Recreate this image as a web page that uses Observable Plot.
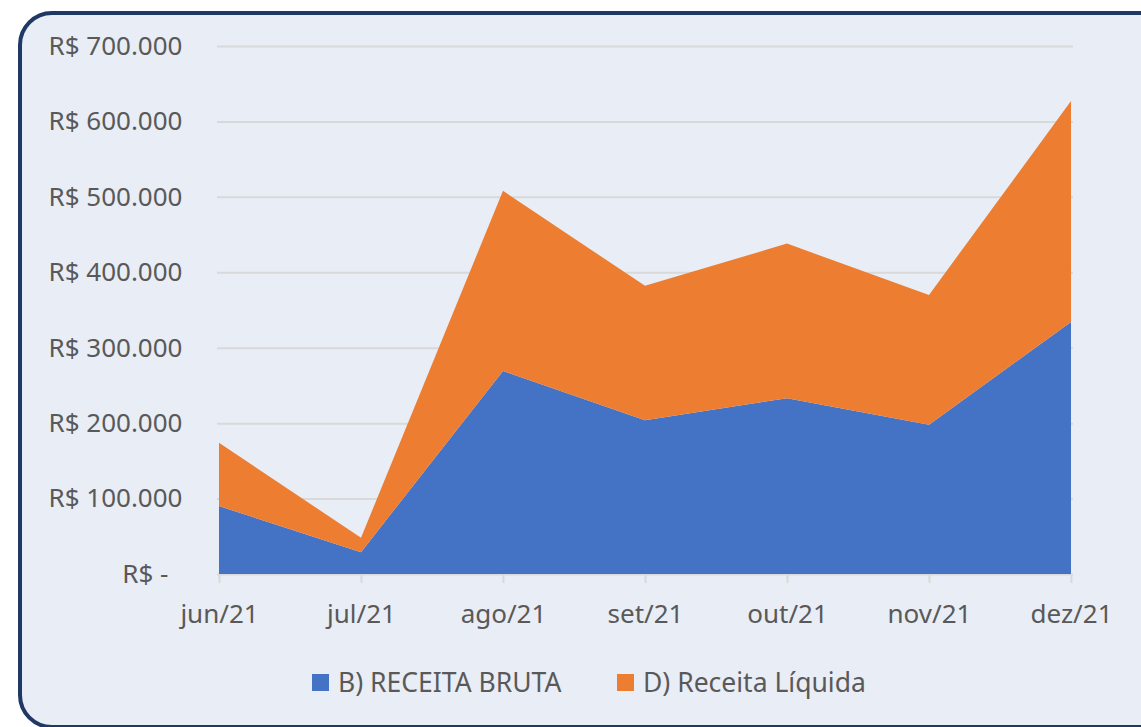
<!DOCTYPE html>
<html>
<head>
<meta charset="utf-8">
<script src="https://cdn.jsdelivr.net/npm/d3@7"></script>
<script src="https://cdn.jsdelivr.net/npm/@observablehq/plot@0.6"></script>
<style>
  html, body { margin: 0; padding: 0; background: #ffffff; overflow: hidden; }
  body { width: 1141px; height: 727px; position: relative; font-family: "Noto Sans", sans-serif; }
  #panel {
    position: absolute; left: 18px; top: 11px; width: 1160px; height: 710px;
    border: 4px solid #1F3864; border-radius: 34px; background: #E9EDF5;
  }
  #chart { position: absolute; left: 0; top: 0; }
  #legend {
    position: absolute; top: 662px; left: 0; width: 1141px; height: 40px;
    font-size: 26.5px; color: #595959;
  }
  .item { position: absolute; top: 0; display: flex; align-items: center; height: 40px; }
  .sw { width: 17px; height: 17px; margin-right: 9px; }
</style>
</head>
<body>
<div id="panel"></div>
<div id="chart"></div>
<div id="legend"></div>
<script>
const months = ["jun/21", "jul/21", "ago/21", "set/21", "out/21", "nov/21", "dez/21"];
const seriesNames = ["B) RECEITA BRUTA", "D) Receita Líquida"];
const receitaBruta = [90000, 29000, 269000, 204000, 233000, 198000, 334000];
const receitaLiquida = [84000, 19000, 239000, 178000, 205000, 172000, 293000];
const colors = ["#4472C4", "#ED7D31"];
const yTicks = [100000, 200000, 300000, 400000, 500000, 600000, 700000];

const data = [];
months.forEach((m, i) => data.push({month: m, series: seriesNames[0], value: receitaBruta[i]}));
months.forEach((m, i) => data.push({month: m, series: seriesNames[1], value: receitaLiquida[i]}));

const fmt = v => v === 0 ? "R$ -" : "R$ " + d3.format(",")(v).replace(/,/g, ".");

const chart = Plot.plot({
  width: 1141,
  height: 640,
  marginLeft: 217,
  marginRight: 68,
  marginTop: 46,
  marginBottom: 66,
  style: {background: "transparent", fontFamily: "Noto Sans, sans-serif", fontSize: "26px", color: "#595959"},
  x: {type: "point", domain: months, padding: 0, label: null},
  y: {domain: [0, 700000], label: null},
  color: {domain: seriesNames, range: colors},
  marks: [
    Plot.gridY(yTicks, {stroke: "#D9D9D9", strokeOpacity: 1, strokeWidth: 2}),
    Plot.ruleY([0], {stroke: "#D9D9D9", strokeWidth: 2}),
    Plot.areaY(data, {x: "month", y: "value", fill: "series", order: seriesNames, fillOpacity: 1, curve: "linear"}),
    Plot.axisY(yTicks, {tickFormat: fmt, tickSize: 0, tickPadding: 35, fill: "#595959", fontSize: 26, label: null}),
    Plot.axisY([0], {tickFormat: fmt, tickSize: 0, tickPadding: 49, fill: "#595959", fontSize: 26, label: null}),
    Plot.axisX({tickSize: 9, stroke: "#D9D9D9", strokeWidth: 2, tickPadding: 21, fill: "#595959", fontSize: 26, label: null})
  ]
});
document.getElementById("chart").appendChild(chart);

const legend = document.getElementById("legend");
const lefts = [312, 617];
seriesNames.forEach((s, i) => {
  const it = document.createElement("div");
  it.className = "item";
  it.style.left = lefts[i] + "px";
  it.innerHTML = `<div class="sw" style="background:${colors[i]}"></div><span>${s}</span>`;
  legend.appendChild(it);
});
</script>
</body>
</html>
